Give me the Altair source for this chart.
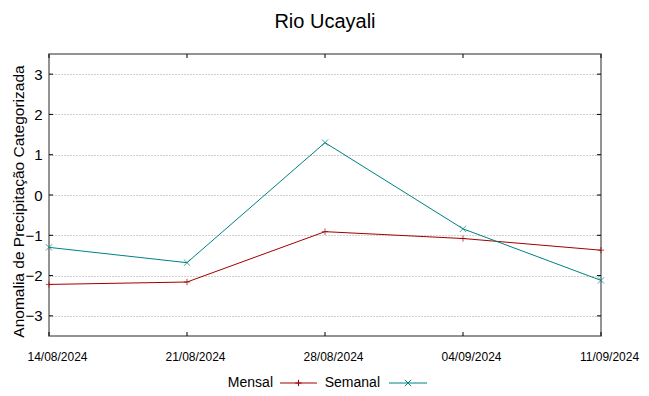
import altair as alt
import pandas as pd

title = "Rio Ucayali"
y_title = "Anomalia de Precipitação Categorizada"
dates = ["14/08/2024", "21/08/2024", "28/08/2024", "04/09/2024", "11/09/2024"]
series_names = ["Mensal", "Semanal"]
mensal = [-2.22, -2.16, -0.91, -1.08, -1.37]
semanal = [-1.30, -1.68, 1.30, -0.84, -2.12]
y_ticks = [-3, -2, -1, 0, 1, 2, 3]
colors = ["#a00000", "#008080"]
shapes = ["M-1,0H1M0,-1V1", "M-1,-1L1,1M-1,1L1,-1"]

W, H = 552, 282
FONT = "Liberation Sans"

rows = []
for d, m, s in zip(dates, mensal, semanal):
    rows.append({"date": d, "serie": series_names[0], "valor": m})
    rows.append({"date": d, "serie": series_names[1], "valor": s})
df = pd.DataFrame(rows)

xenc = alt.X("date:O", sort=dates, scale=alt.Scale(type="point", padding=0),
             axis=alt.Axis(title=None, labelAngle=0, ticks=False, domain=False, grid=False,
                           labelFontSize=12, labelFont=FONT, labelColor="#000", labelPadding=15,
                           labelOffset=8))
yscale = alt.Scale(domain=[-3.5, 3.5], nice=False, zero=False)
yenc = alt.Y("valor:Q", scale=yscale,
             axis=alt.Axis(title=y_title, values=y_ticks, ticks=False, domain=False, grid=True,
                           gridColor="#a0a0a0", gridDash=[1, 2], gridWidth=1,
                           labelFontSize=15, labelFont=FONT, labelColor="#000", labelPadding=7,
                           titleFontSize=15.5, titleFont=FONT, titleFontWeight="normal",
                           titleColor="#000", titleX=-23, titleY=147))
color = alt.Color("serie:N", scale=alt.Scale(domain=series_names, range=colors), legend=None)

lines = alt.Chart(df).mark_line(strokeWidth=1, clip=False).encode(x=xenc, y=yenc, color=color)
points = alt.Chart(df).mark_point(filled=False, strokeWidth=1, size=40).encode(
    x=alt.X("date:O", sort=dates), y=alt.Y("valor:Q"), color=color,
    shape=alt.Shape("serie:N", scale=alt.Scale(domain=series_names, range=shapes), legend=None))

ytk = pd.DataFrame({"v": y_ticks})
xtk = pd.DataFrame({"date": dates})
tick_style = dict(color="#000", strokeWidth=1)
left_ticks = alt.Chart(ytk).mark_rule(**tick_style).encode(
    y=alt.Y("v:Q", scale=yscale), x=alt.value(0), x2=alt.value(4))
right_ticks = alt.Chart(ytk).mark_rule(**tick_style).encode(
    y=alt.Y("v:Q", scale=yscale), x=alt.value(W - 4), x2=alt.value(W))
bottom_ticks = alt.Chart(xtk).mark_rule(**tick_style).encode(
    x=alt.X("date:O", sort=dates), y=alt.value(H - 4), y2=alt.value(H))
top_ticks = alt.Chart(xtk).mark_rule(**tick_style).encode(
    x=alt.X("date:O", sort=dates), y=alt.value(0), y2=alt.value(4))

# manual legend (label left of sample, gnuplot style)
leg_y = 329
leg = []
label_right = [224, 331]
line_x = [(231, 268), (340, 378)]
for name, c, shp, lx, (a, b) in zip(series_names, colors, shapes, label_right, line_x):
    ldf = pd.DataFrame({"serie": [name]})
    leg.append(alt.Chart(ldf).mark_text(align="right", baseline="middle", fontSize=14,
                                        font=FONT, color="#000").encode(
        text="serie:N", x=alt.value(lx), y=alt.value(leg_y)))
    leg.append(alt.Chart(ldf).mark_rule(color=c, strokeWidth=1).encode(
        x=alt.value(a), x2=alt.value(b), y=alt.value(leg_y)))
    leg.append(alt.Chart(ldf).mark_point(shape=shp, filled=False, color=c, strokeWidth=1,
                                         size=40, opacity=1).encode(
        x=alt.value((a + b) / 2), y=alt.value(leg_y)))

chart = alt.layer(lines, points, left_ticks, right_ticks, bottom_ticks, top_ticks, *leg).properties(
    width=W, height=H,
    title=alt.TitleParams(title, fontSize=20, font=FONT, fontWeight="normal", color="#000",
                          anchor="middle", offset=22),
    autosize=alt.AutoSizeParams(type="none"),
    padding={"left": 41, "top": 46, "right": 40, "bottom": 52},
    background="white",
).configure_view(stroke="#707070", strokeWidth=1.5)

chart.save("out.html", embed_options={"renderer": "svg", "actions": False})
